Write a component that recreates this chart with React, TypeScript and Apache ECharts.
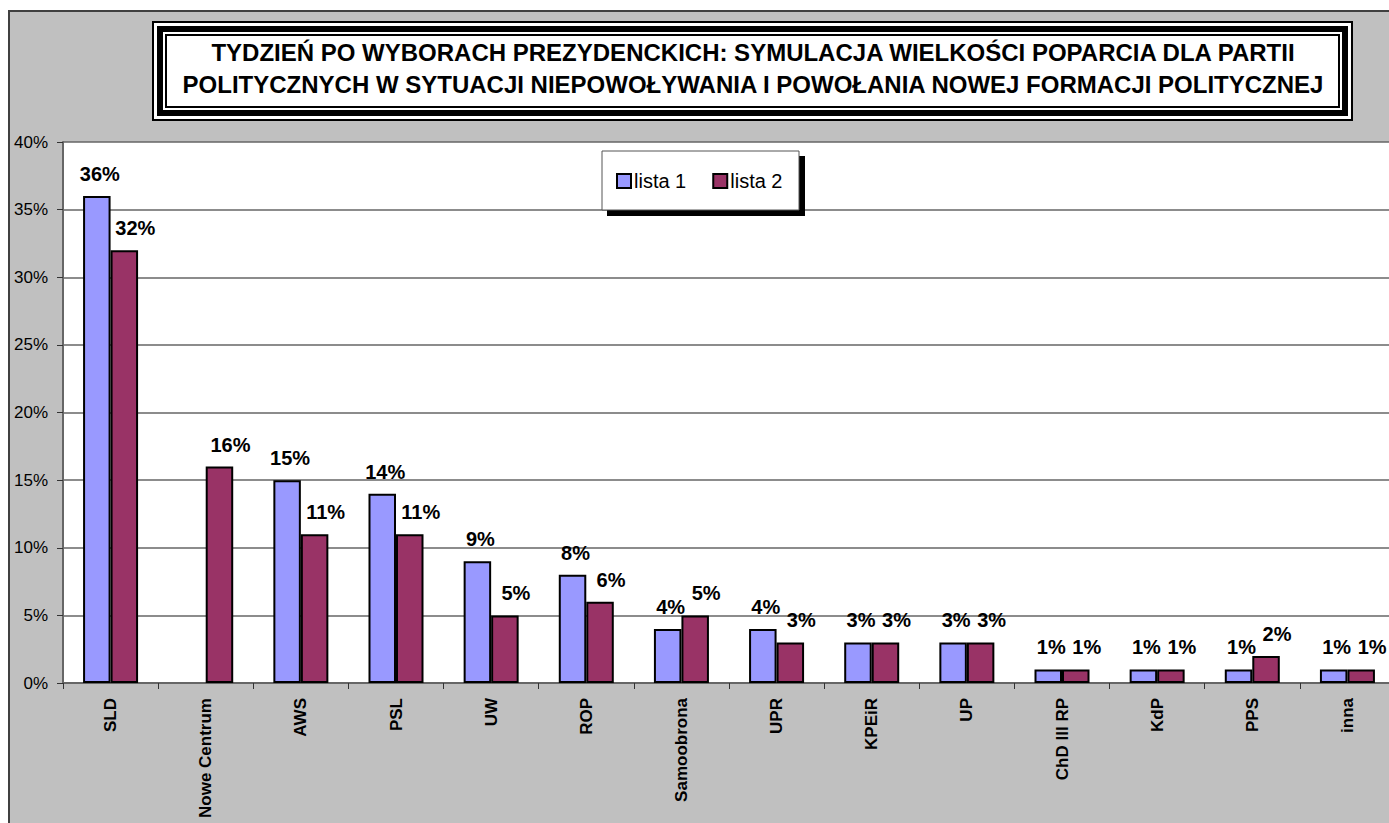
import React, { useEffect, useRef } from "react";
import * as echarts from "echarts";

const categories = ["SLD", "Nowe Centrum", "AWS", "PSL", "UW", "ROP", "Samoobrona", "UPR", "KPEiR", "UP", "ChD III RP", "KdP", "PPS", "inna"];
const lista1: (number | null)[] = [36, null, 15, 14, 9, 8, 4, 4, 3, 3, 1, 1, 1, 1];
const lista2: number[] = [32, 16, 11, 11, 5, 6, 5, 3, 3, 3, 1, 1, 2, 1];
const titleLines = [
  "TYDZIEŃ PO WYBORACH PREZYDENCKICH: SYMULACJA WIELKOŚCI POPARCIA DLA PARTII",
  "POLITYCZNYCH W SYTUACJI NIEPOWOŁYWANIA I POWOŁANIA NOWEJ FORMACJI POLITYCZNEJ",
];
const seriesNames = ["lista 1", "lista 2"];

const FONT = '"Liberation Sans", Arial, sans-serif';

export default function App() {
  const ref = useRef<HTMLDivElement>(null);
  useEffect(() => {
    if (!ref.current) return;
    const chart = echarts.init(ref.current, undefined, { renderer: "svg" });
    const tx = 152, ty = 21, tw = 1201, th = 100;
    const layers = [
      { inset: 0, fill: "#000" },
      { inset: 2, fill: "#fff" },
      { inset: 5, fill: "#000" },
      { inset: 11, fill: "#fff" },
      { inset: 13, fill: "#000" },
      { inset: 15, fill: "#fff" },
    ];
    const labelStyle = (dx: number) => ({
      show: true,
      position: "top",
      distance: 12,
      offset: [dx, 0],
      formatter: "{c}%",
      fontFamily: FONT,
      fontWeight: "bold",
      fontSize: 20,
      color: "#000",
    });
    chart.setOption({
      animation: false,
      backgroundColor: "#fff",
      textStyle: { fontFamily: FONT },
      graphic: [
        {
          type: "rect",
          z: -100,
          shape: { x: 9, y: 11, width: 1400, height: 830 },
          style: { fill: "#c0c0c0", stroke: "#404040", lineWidth: 2 },
        },
        ...layers.map((l, i) => ({
          type: "rect",
          z: 100 + i,
          shape: { x: tx + l.inset, y: ty + l.inset, width: tw - 2 * l.inset, height: th - 2 * l.inset },
          style: { fill: l.fill },
        })),
        {
          type: "text",
          z: 120,
          x: 753,
          y: 68,
          style: {
            text: titleLines.join("\n"),
            fontFamily: FONT,
            fontWeight: "bold",
            fontSize: 24,
            lineHeight: 32,
            fill: "#000",
            align: "center",
            verticalAlign: "middle",
          },
        },
        {
          type: "rect",
          z: 100,
          shape: { x: 607, y: 156, width: 198, height: 60 },
          style: { fill: "#000" },
        },
        {
          type: "rect",
          z: 101,
          shape: { x: 602, y: 151, width: 197, height: 59 },
          style: { fill: "#fff", stroke: "#555", lineWidth: 1 },
        },
      ],
      legend: {
        z: 200,
        left: 616,
        top: 171,
        itemWidth: 14,
        itemHeight: 14,
        itemGap: 26,
        icon: "rect",
        padding: 0,
        data: seriesNames,
        itemStyle: { borderColor: "#000", borderWidth: 2 },
        textStyle: { fontFamily: FONT, fontSize: 20, color: "#000", padding: [0, 0, 0, -2] },
      },
      grid: {
        left: 63,
        top: 142,
        width: 1332,
        height: 541,
        containLabel: false,
        outerBoundsMode: "none",
        show: true,
        backgroundColor: "#fff",
        borderWidth: 0,
      },
      xAxis: {
        type: "category",
        data: categories,
        axisLine: { show: true, lineStyle: { color: "#666", width: 2 } },
        axisTick: { show: true, alignWithLabel: false, length: 6, lineStyle: { color: "#333", width: 1 } },
        axisLabel: {
          interval: 0,
          rotate: 90,
          margin: 15,
          fontFamily: FONT,
          fontWeight: "bold",
          fontSize: 17,
          color: "#000",
        },
      },
      yAxis: {
        type: "value",
        min: 0,
        max: 40,
        interval: 5,
        axisLine: { show: true, lineStyle: { color: "#666", width: 2 } },
        axisTick: { show: true, length: 6, lineStyle: { color: "#333", width: 1 } },
        splitLine: { show: true, lineStyle: { color: "#666", width: 1.5 } },
        axisLabel: {
          formatter: "{value}%",
          margin: 15,
          fontFamily: FONT,
          fontSize: 17,
          color: "#000",
        },
      },
      series: [
        {
          name: seriesNames[0],
          type: "bar",
          data: lista1,
          barWidth: 27.5,
          barGap: "0%",
          itemStyle: { color: "#9999ff", borderColor: "#000", borderWidth: 2 },
          label: labelStyle(3),
        },
        {
          name: seriesNames[1],
          type: "bar",
          data: lista2,
          barWidth: 27.5,
          barGap: "0%",
          itemStyle: { color: "#993366", borderColor: "#000", borderWidth: 2 },
          label: labelStyle(11),
        },
      ],
    });
    return () => chart.dispose();
  }, []);
  return (
    <div
      style={{ position: "fixed", left: 0, top: 0, width: 1389, height: 823, overflow: "hidden" }}
    >
      <div ref={ref} style={{ width: 1389, height: 823, overflow: "hidden" }} />
    </div>
  );
}
